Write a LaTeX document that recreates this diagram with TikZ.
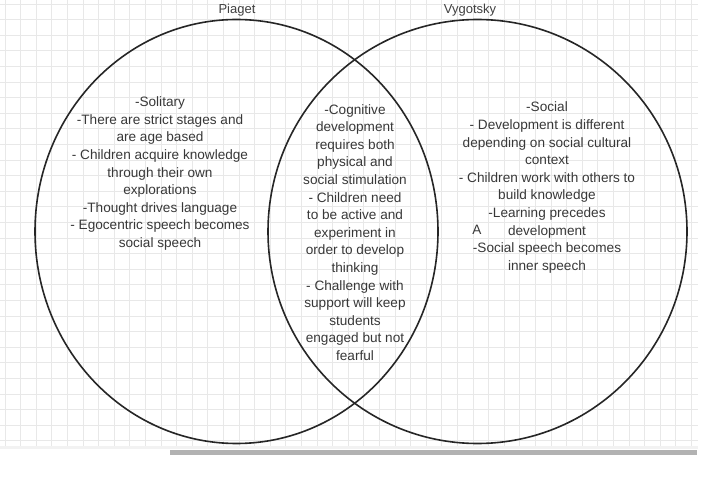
\documentclass[tikz,border=0pt]{standalone}
\usepackage{fontspec}
\setmainfont{Liberation Sans}
\begin{document}
\begin{tikzpicture}[x=1pt,y=-1pt,
  txt/.style={align=center, text=black!78, inner sep=0pt,
    font=\fontsize{13.6}{17.6}\selectfont},
  ttl/.style={text=black!75, inner sep=0pt, font=\fontsize{13}{15}\selectfont},
  gridline/.style={draw=black!9, line width=0.7pt},
  ring/.style={draw=black!85, line width=1.6pt}]
\useasboundingbox (0,0) rectangle (720,478);
\fill[white] (0,0) rectangle (720,478);
% grid
\foreach \i in {0,...,44} {
  \pgfmathsetmacro{\gx}{5+15.6*\i}
  \ifdim \gx pt < 699pt \draw[gridline] (\gx,0) -- (\gx,447); \fi
}
\foreach \j in {0,...,28} {
  \pgfmathsetmacro{\gy}{4+15.6*\j}
  \ifdim \gy pt < 448pt \draw[gridline] (0,\gy) -- (698,\gy); \fi
}
\fill[black!5] (0,446) rectangle (698,449);
\fill[black!30] (170,449.5) rectangle (697,454.5);
% circles
\draw[ring] (236.5,231.5) ellipse [x radius=201.5, y radius=212];
\draw[ring] (477.5,231.5) ellipse [x radius=209.5, y radius=212];
% titles
\node[ttl] (tp) at (237,10) {Piaget};
\node[ttl] (tv) at (470,10) {Vygotsky};
% texts
\node[txt] (left) at (160,173.5) {-Solitary\\-There are strict stages and\\are age based\\- Children acquire knowledge\\through their own\\explorations\\-Thought drives language\\- Egocentric speech becomes\\social speech};
\node[txt] (mid) at (355,232.5) {-Cognitive\\development\\requires both\\physical and\\social stimulation\\- Children need\\to be active and\\experiment in\\order to develop\\thinking\\- Challenge with\\support will keep\\students\\engaged but not\\fearful};
\node[txt] (right) at (547,187.5) {-Social\\- Development is different\\depending on social cultural\\context\\- Children work with others to\\build knowledge\\-Learning precedes\\development\\-Social speech becomes\\inner speech};
\node[txt] (a) at (477,230) {A};
\end{tikzpicture}
\end{document}
